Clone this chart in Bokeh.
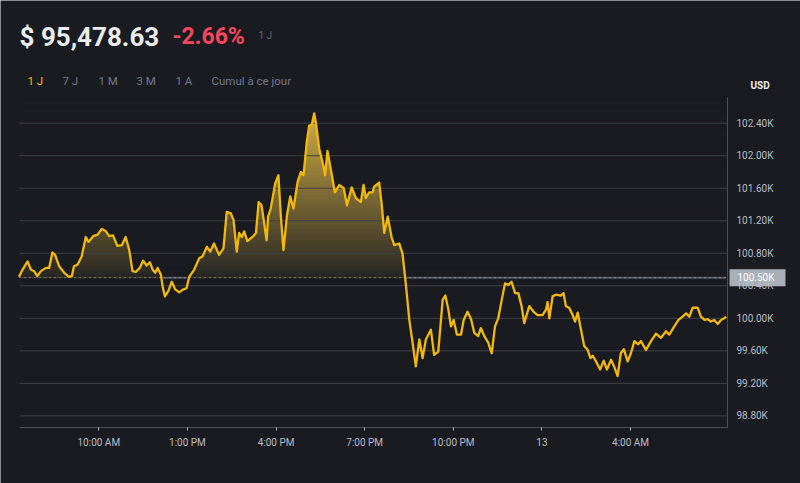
import numpy as np
from bokeh.plotting import figure
from bokeh.models import FixedTicker, Range1d
from bokeh.core.properties import value
from bokeh.embed import file_html
from bokeh.resources import INLINE

# ---- data (hours since midnight of the 12th, price in USD) ----
hours = [7.30, 7.42, 7.59, 7.70, 7.81, 7.92, 8.04, 8.21, 8.32, 8.43,
         8.52, 8.66, 8.83, 8.99, 9.09, 9.16, 9.28, 9.42, 9.56, 9.65,
         9.81, 9.96, 10.10, 10.24, 10.35, 10.48, 10.63, 10.78, 10.91, 11.03,
         11.14, 11.25, 11.39, 11.50, 11.62, 11.73, 11.82, 11.91, 11.99, 12.10,
         12.16, 12.24, 12.36, 12.47, 12.58, 12.72, 12.83, 12.97, 13.06, 13.23,
         13.40, 13.51, 13.66, 13.77, 13.90, 14.07, 14.22, 14.33, 14.47, 14.56,
         14.67, 14.75, 14.84, 14.92, 15.03, 15.20, 15.32, 15.41, 15.51, 15.68,
         15.73, 15.82, 15.97, 16.08, 16.16, 16.25, 16.37, 16.48, 16.59, 16.73,
         16.84, 16.93, 17.04, 17.12, 17.21, 17.29, 17.35, 17.46, 17.61, 17.66,
         17.74, 17.86, 17.99, 18.14, 18.29, 18.40, 18.56, 18.70, 18.87, 18.96,
         19.04, 19.15, 19.27, 19.32, 19.49, 19.58, 19.66, 19.78, 19.91, 20.00,
         20.17, 20.28, 20.40, 20.51, 20.62, 20.73, 20.85, 20.96, 21.07, 21.24,
         21.35, 21.49, 21.64, 21.73, 21.83, 21.92, 22.01, 22.12, 22.26, 22.35,
         22.48, 22.60, 22.71, 22.84, 22.93, 23.05, 23.18, 23.30, 23.41, 23.52,
         23.64, 23.75, 23.86, 23.97, 24.09, 24.20, 24.31, 24.40, 24.57, 24.72,
         24.85, 25.02, 25.14, 25.19, 25.25, 25.36, 25.47, 25.64, 25.73, 25.81,
         25.92, 26.04, 26.12, 26.21, 26.30, 26.43, 26.55, 26.64, 26.72, 26.83,
         26.97, 27.09, 27.20, 27.34, 27.45, 27.56, 27.67, 27.77, 27.90, 28.01,
         28.13, 28.26, 28.35, 28.52, 28.69, 28.86, 29.03, 29.20, 29.31, 29.48,
         29.62, 29.76, 29.88, 29.99, 30.10, 30.27, 30.38, 30.50, 30.61, 30.72,
         30.83, 30.95, 31.06, 31.17, 31.23]

prices = [100510, 100600, 100700, 100600, 100580, 100520, 100580, 100620, 100620, 100810,
          100780, 100640, 100560, 100510, 100520, 100640, 100660, 100760, 101000, 100940,
          101010, 101030, 101100, 101070, 101010, 101020, 100890, 100900, 101000, 100840,
          100580, 100570, 100620, 100710, 100650, 100690, 100600, 100560, 100620, 100540,
          100390, 100270, 100340, 100450, 100360, 100320, 100350, 100370, 100510, 100600,
          100740, 100760, 100880, 100820, 100920, 100780, 100860, 101310, 101290, 101210,
          100820, 101050, 101000, 101070, 100950, 101000, 101050, 101430, 101390, 100960,
          101250, 101350, 101660, 101760, 101270, 100840, 101270, 101500, 101350, 101680,
          101800, 101760, 102170, 102370, 102380, 102520, 102400, 102090, 101860, 101760,
          102060, 101820, 101550, 101640, 101600, 101390, 101610, 101480, 101430, 101640,
          101480, 101550, 101550, 101620, 101670, 101390, 101050, 101250, 101000, 100900,
          100920, 100800, 100390, 99980, 99700, 99410, 99740, 99510, 99740, 99860,
          99550, 99590, 100230, 100280, 100110, 99900, 99980, 99800, 99800, 99980,
          100080, 99990, 99820, 99780, 99880, 99780, 99700, 99570, 99900, 100000,
          100230, 100430, 100410, 100450, 100310, 100310, 100150, 99940, 100150, 100080,
          100040, 100040, 100110, 100200, 100000, 100270, 100290, 100280, 100310, 100150,
          100130, 100040, 99960, 100070, 99900, 99660, 99610, 99510, 99540, 99470,
          99370, 99480, 99370, 99490, 99400, 99290, 99570, 99620, 99470, 99570,
          99720, 99680, 99720, 99610, 99720, 99810, 99760, 99840, 99800, 99900,
          99980, 100020, 100060, 100020, 100130, 100130, 100020, 99980, 99990, 99960,
          99980, 99930, 99980, 100000, 100020]

baseline_price = 100500
baseline_label = "100.50K"

y_ticks = [98800, 99200, 99600, 100000, 100400, 100800, 101200, 101600, 102000, 102400]
y_tick_labels = ["98.80K", "99.20K", "99.60K", "100.00K", "100.40K",
                 "100.80K", "101.20K", "101.60K", "102.00K", "102.40K"]
x_ticks = [10, 13, 16, 19, 22, 25, 28]
x_tick_labels = ["10:00 AM", "1:00 PM", "4:00 PM", "7:00 PM", "10:00 PM", "13", "4:00 AM"]

price_text = "$ 95,478.63"
change_text = "-2.66%"
period_text = "1 J"
periods = ["1 J", "7 J", "1 M", "3 M", "1 A", "Cumul à ce jour"]
currency = "USD"

# ---- style ----
BG = "#1a1b21"
LINE = "#f0b90b"
FILL = "#f2c84c"
GRID = "#3e4148"
AXIS = "#4a4e56"
TXT = "#b7bdc6"
FONT = "Roboto"

# plotting area (data window) and where it sits on the canvas (pixels)
X0, X1 = 7.316, 31.28          # time window shown
Y0, Y1 = 98657, 102716         # price window shown
PL, PR, PT, PB = 19, 727, 97, 427
KX = (X1 - X0) / (PR - PL)
KY = (Y1 - Y0) / (PB - PT)


def dx(px):
    return X0 + (px - PL) * KX


def dy(py):
    return Y1 - (py - PT) * KY


p = figure(width=800, height=483, output_backend="svg", toolbar_location=None,
           x_range=Range1d(dx(0), dx(800)), y_range=Range1d(dy(483), dy(0)),
           y_axis_location="right", min_border=0,
           min_border_left=0, min_border_right=0, min_border_top=0, min_border_bottom=0,
           background_fill_color=BG, border_fill_color=BG)
p.outline_line_color = None
p.grid.visible = False

hrs = np.array(hours, dtype=float)
prc = np.array(prices, dtype=float)

# area fill between baseline and price
fill_r = p.varea(x=hrs, y1=baseline_price, y2=prc, fill_color=FILL, fill_alpha=1.0)
fill_r.level = "image"
# hide the part below the baseline
cover = p.quad(left=[X0], right=[X1], bottom=[Y0], top=[baseline_price],
               fill_color=BG, line_color=None)
cover.level = "image"
# vertical gradient overlay: opaque background near baseline, thin near top
N = 128
frac = (np.arange(N) + 0.5) / N
alphas = np.clip(0.95 - 0.87 * frac, 0, 1)
img = np.zeros((N, 1), dtype=np.uint32)
view = img.view(dtype=np.uint8).reshape((N, 1, 4))
view[:, 0, 0] = 0x1a
view[:, 0, 1] = 0x1b
view[:, 0, 2] = 0x21
view[:, 0, 3] = (alphas * 255).astype(np.uint8)
grad = p.image_rgba(image=[img], x=X0, y=baseline_price, dw=X1 - X0, dh=Y1 - baseline_price)
grad.level = "image"

# horizontal grid lines (limited to the plotting window)
nt = len(y_ticks)
g = p.segment(x0=[X0] * nt, x1=[X1] * nt, y0=y_ticks, y1=y_ticks,
              line_color=GRID, line_width=1)
g.level = "underlay"

# baseline: grey solid where price is under it, dotted everywhere
below = np.where(prc < baseline_price, float(baseline_price), np.nan)
p.line(hrs, below, line_color="#555962", line_width=2)
p.segment(x0=[X0], x1=[X1], y0=[baseline_price], y1=[baseline_price],
          line_color="#a8aeb6", line_width=1, line_dash="1 4")

# price line
p.line(hrs, prc, line_color=LINE, line_width=2.3, line_join="round")

# axes, pinned to the plotting window edges
ya = p.yaxis[0]
ya.fixed_location = X1
ya.bounds = (Y0, Y1)
ya.ticker = FixedTicker(ticks=y_ticks)
ya.major_label_overrides = {t: l for t, l in zip(y_ticks, y_tick_labels)}
ya.major_tick_out = 0
ya.major_tick_in = 0
ya.minor_tick_out = 0
ya.minor_tick_in = 0
ya.axis_line_color = AXIS
ya.major_label_text_color = TXT
ya.major_label_text_font = FONT
ya.major_label_text_font_size = "10px"
ya.major_label_standoff = 9

xa = p.xaxis[0]
xa.fixed_location = Y0
xa.bounds = (X0, X1)
xa.ticker = FixedTicker(ticks=x_ticks)
xa.major_label_overrides = {t: l for t, l in zip(x_ticks, x_tick_labels)}
xa.major_tick_out = 3
xa.major_tick_in = 0
xa.major_tick_line_color = TXT
xa.minor_tick_out = 0
xa.minor_tick_in = 0
xa.axis_line_color = AXIS
xa.major_label_text_color = TXT
xa.major_label_text_font = FONT
xa.major_label_text_font_size = "10px"
xa.major_label_standoff = 6

# current price tag on the right axis
p.quad(left=[dx(729)], right=[dx(785)], bottom=[baseline_price - 8.5 * KY],
       top=[baseline_price + 8.5 * KY], fill_color="#a9afb9", line_color=None)
p.text(x=[dx(737)], y=[baseline_price], text=[baseline_label], text_font=value(FONT),
       text_font_size="10px", text_color="#ffffff", text_baseline="middle", text_align="left")


def htext(t, px, py, size, color, bold=False, baseline="middle"):
    p.text(x=[dx(px)], y=[dy(py)], text=[t], text_font=value(FONT), text_font_size=size,
           text_color=color, text_font_style="bold" if bold else "normal",
           text_baseline=baseline, text_align="left")


htext(price_text, 19, 36, "26px", "#eaecef", bold=True, baseline="alphabetic")
htext(change_text, 172, 36, "23px", "#f6465d", bold=True, baseline="alphabetic")
htext(period_text, 258, 35, "10px", "#5e6673", baseline="alphabetic")
period_x = [27, 62, 98, 136, 175, 211]
for i, (t, px) in enumerate(zip(periods, period_x)):
    htext(t, px, 80, "11.5px", LINE if i == 0 else "#707a8a")
htext(currency, 750, 85, "10px", "#eaecef", bold=True)

open("out.html", "w").write(file_html(p, INLINE))
